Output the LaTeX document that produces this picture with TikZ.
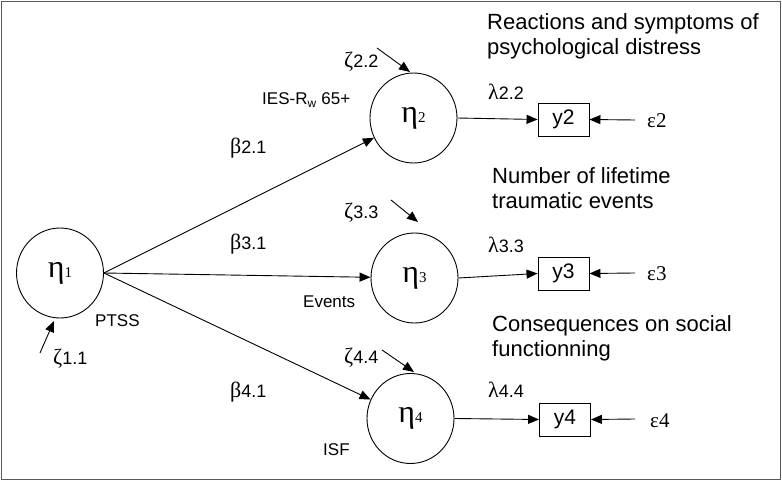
\documentclass[tikz,border=0pt]{standalone}
\usepackage{fontspec}
\setmainfont{Liberation Sans}
\newfontfamily\serifgr{Liberation Serif}
\usetikzlibrary{arrows.meta,shapes.geometric}
\tikzset{
  lat/.style={draw, ellipse, line width=0.9pt, minimum width=87pt, minimum height=90pt, inner sep=0pt},
  obs/.style={draw, rectangle, line width=0.9pt, minimum width=51pt, minimum height=33pt, inner sep=0pt, font=\fontsize{21}{24}\selectfont},
  arr/.style={line width=0.9pt, -{Triangle[length=11pt,width=9pt]}},
  lbl/.style={inner sep=0pt, font=\fontsize{17}{20}\selectfont},
  title/.style={inner sep=0pt, anchor=west, align=left, font=\fontsize{22}{25}\selectfont},
}
\newcommand{\etalbl}[1]{{\serifgr\fontsize{32}{32}\selectfont η\fontsize{15}{15}\selectfont #1}}
\newcommand{\grk}[2]{{\serifgr\fontsize{22}{22}\selectfont #1}{\fontsize{18}{18}\selectfont #2}}
\begin{document}
\begin{tikzpicture}[x=1pt,y=-1pt]
\useasboundingbox (0,0) rectangle (782,481);
\draw[line width=1.8pt, gray!70!black] (1.5,1.5) rectangle (780.5,479.5);
% latent variables
\node[lat] (e1) at (60,273) {\etalbl{1}};
\node[lat] (e2) at (413.5,118) {\etalbl{2}};
\node[lat] (e3) at (414.5,278) {\etalbl{3}};
\node[lat] (e4) at (410.5,418.5) {\etalbl{4}};
% observed
\node[obs] (y2) at (563.5,119.5) {y2};
\node[obs] (y3) at (563.5,273.5) {y3};
\node[obs] (y4) at (565,419.5) {y4};
% structural paths
\draw[arr] (e1.east) -- (e2);
\draw[arr] (e1.east) -- (e3);
\draw[arr] (e1.east) -- (e4);
\node[lbl, anchor=west] (b21) at (230,148) {\grk{β}{2.1}};
\node[lbl, anchor=west] (b31) at (230,244) {\grk{β}{3.1}};
\node[lbl, anchor=west] (b41) at (230,392) {\grk{β}{4.1}};
% measurement paths
\draw[arr] (e2.east) -- (y2.west);
\draw[arr] (e3.east) -- (y3.west);
\draw[arr] (e4.east) -- (y4.west);
\node[lbl, anchor=west] (l22) at (488,92) {\grk{λ}{2.2}};
\node[lbl, anchor=west] (l33) at (488,245) {\grk{λ}{3.3}};
\node[lbl, anchor=west] (l44) at (488,390) {\grk{λ}{4.4}};
% errors
\coordinate (c2) at (635,120);
\coordinate (c3) at (635,273);
\coordinate (c4) at (635,419);
\draw[arr] (c2) -- (y2.east);
\draw[arr] (c3) -- (y3.east);
\draw[arr] (c4) -- (y4.east);
\node[lbl, anchor=west] (eps2) at (647,121) {\serifgr\fontsize{21}{21}\selectfont ε2};
\node[lbl, anchor=west] (eps3) at (647,274) {\serifgr\fontsize{21}{21}\selectfont ε3};
\node[lbl, anchor=west] (eps4) at (650,421) {\serifgr\fontsize{21}{21}\selectfont ε4};
% disturbances
\coordinate (z2s) at (377,48);
\coordinate (z2e) at (410,72);
\draw[arr] (z2s) -- (z2e);
\node[lbl, anchor=west] (z22) at (344,62) {\grk{ζ}{2.2}};
\coordinate (z3s) at (391,200);
\coordinate (z3e) at (418,222);
\draw[arr] (z3s) -- (z3e);
\node[lbl, anchor=west] (z33) at (344,213) {\grk{ζ}{3.3}};
\coordinate (z4s) at (382,350);
\coordinate (z4e) at (414,372);
\draw[arr] (z4s) -- (z4e);
\node[lbl, anchor=west] (z44) at (344,358) {\grk{ζ}{4.4}};
\coordinate (z1s) at (40,353);
\coordinate (z1e) at (54,321);
\draw[arr] (z1s) -- (z1e);
\node[lbl, anchor=west] (z11) at (53,359) {\grk{ζ}{1.1}};
% variable names
\node[lbl, anchor=west] (ies) at (262,100) {IES-R\textsubscript{w} 65+};
\node[lbl, anchor=west] (ev) at (303,302) {Events};
\node[lbl, anchor=west] (isf) at (323,450) {ISF};
\node[lbl, anchor=west] (ptss) at (95,321) {PTSS};
% titles
\node[title] (t2) at (487,36) {Reactions and symptoms of\\psychological distress};
\node[title] (t3) at (492,188) {Number of lifetime\\traumatic events};
\node[title] (t4) at (492,338) {Consequences on social\\functionning};
\end{tikzpicture}
\end{document}
